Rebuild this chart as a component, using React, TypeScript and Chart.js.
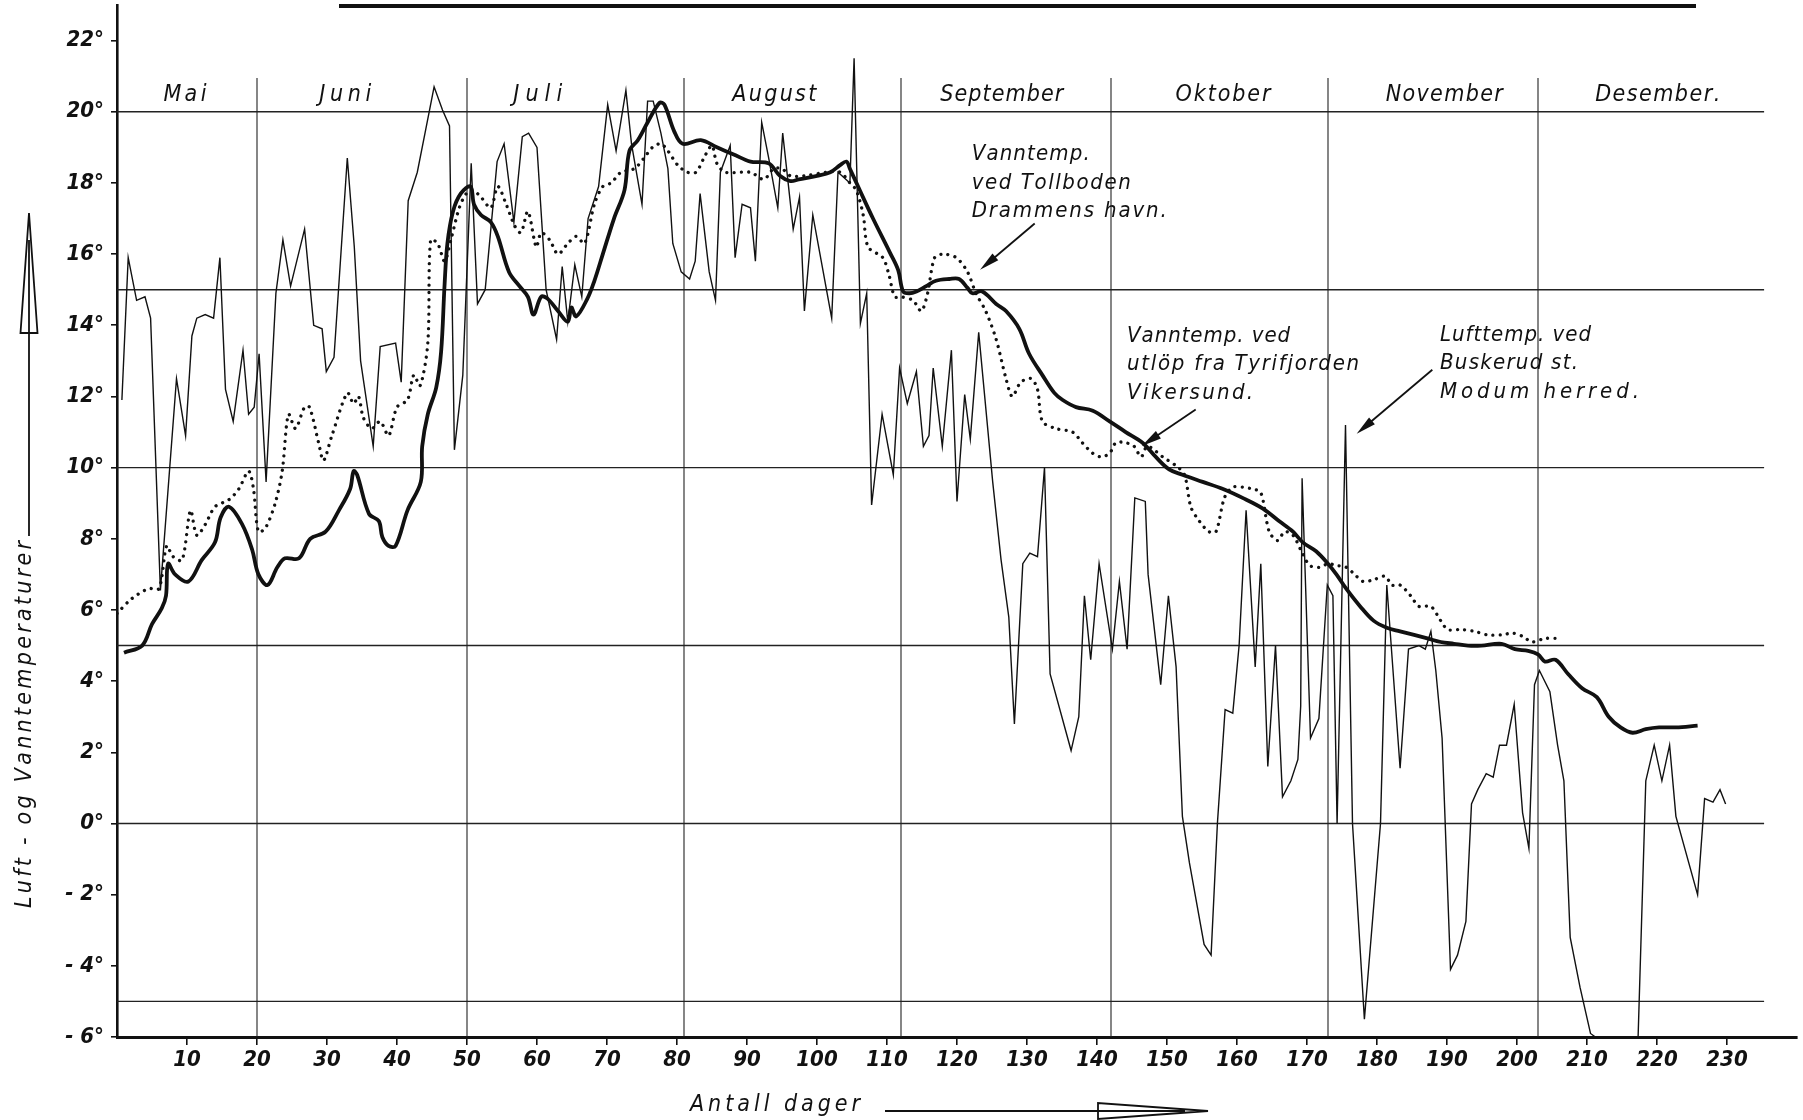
import React, { useEffect, useRef } from 'react';
import { Chart, registerables } from 'chart.js';

Chart.register(...registerables);

// ---- Data: days counted from the first observation day, temperatures in °C ----

// Lufttemp. ved Buskerud st., Modum herred (daily air temperature)
const airDays = [
  0.7, 1.6, 2.8, 4.0, 4.8, 6.2, 8.5, 9.8, 10.7, 11.4, 12.6, 13.8, 14.7, 15.5, 16.6, 18.0, 18.8, 19.6,
  20.3, 21.3, 22.7, 23.7, 24.8, 26.8, 28.1, 29.3, 29.9, 31.0, 32.9, 33.9, 34.8, 36.6, 37.6, 39.8, 40.6,
  41.6, 42.9, 44.1, 45.3, 46.5, 47.5, 48.2, 49.4, 50.6, 51.5, 52.6, 54.3, 55.3, 56.7, 57.9, 58.8, 60.0,
  61.3, 62.8, 63.6, 64.4, 65.4, 66.4, 67.3, 68.8, 70.1, 71.3, 72.7, 73.5, 75.0, 75.8, 76.6, 77.7, 78.7,
  79.4, 80.6, 81.8, 82.6, 83.3, 84.6, 85.5, 86.2, 87.6, 88.3, 89.3, 90.5, 91.2, 92.1, 93.1, 94.4, 95.1,
  96.6, 97.5, 98.2, 99.4, 102.1, 103.0, 104.7, 105.3, 106.2, 107.1, 107.8, 109.3, 110.9, 111.8, 112.9,
  114.2, 115.2, 116.0, 116.6, 117.9, 119.2, 120.0, 121.1, 121.9, 123.1, 125.1, 126.3, 127.4, 128.2,
  129.4, 130.4, 131.5, 132.5, 133.3, 136.3, 137.4, 138.2, 139.1, 140.3, 142.2, 143.2, 144.3, 145.4,
  146.9, 147.3, 149.1, 150.2, 151.3, 152.2, 153.2, 155.3, 156.3, 157.2, 158.3, 159.4, 160.3, 161.3,
  162.6, 163.4, 164.4, 165.5, 166.5, 167.7, 168.7, 169.1, 169.3, 170.5, 171.7, 172.9, 173.7, 174.3,
  175.5, 176.5, 178.2, 180.5, 181.4, 183.3, 184.5, 186.0, 186.9, 187.7, 188.4, 189.3, 190.5, 191.5,
  192.7, 193.5, 194.4, 195.6, 196.6, 197.5, 198.5, 199.6, 200.8, 201.7, 202.5, 203.2, 204.7, 205.8,
  206.7, 207.6, 209.0, 210.5, 211.2, 214.0, 217.3, 218.4, 219.6, 220.7, 221.8, 222.7, 225.8, 226.8,
  228.0, 229.0, 229.8,
];
const airTemps = [
  11.9, 15.9, 14.7, 14.8, 14.2, 6.55, 12.5, 10.9, 13.7, 14.2, 14.3, 14.2, 15.9, 12.2, 11.3, 13.3, 11.5, 11.7,
  13.2, 9.6, 14.9, 16.4, 15.1, 16.7, 14.0, 13.9, 12.7, 13.1, 18.7, 16.2, 13.0, 10.6, 13.4, 13.5, 12.4,
  17.5, 18.3, 19.5, 20.7, 20.05, 19.6, 10.5, 12.6, 18.55, 14.6, 15.0, 18.6, 19.1, 16.9, 19.3, 19.4, 19.0,
  15.0, 13.6, 15.65, 14.1, 15.7, 14.8, 17.0, 17.9, 20.2, 18.9, 20.6, 19.1, 17.4, 20.3, 20.3, 19.4, 18.4,
  16.3, 15.5, 15.3, 15.8, 17.7, 15.5, 14.7, 18.3, 19.05, 15.9, 17.4, 17.3, 15.8, 19.7, 18.7, 17.3, 19.4,
  16.7, 17.6, 14.4, 17.1, 14.2, 18.3, 18.0, 21.5, 14.05, 14.9, 8.95, 11.5, 9.8, 12.8, 11.8,
  12.7, 10.6, 10.9, 12.8, 10.6, 13.3, 9.05, 12.05, 10.8, 13.8, 9.6, 7.4, 5.8, 2.8,
  7.3, 7.6, 7.5, 10.0, 4.2, 2.05, 3.0, 6.4, 4.6, 7.3, 4.9, 6.8, 4.9, 9.15,
  9.05, 7.0, 3.9, 6.4, 4.4, 0.2, -1.1, -3.4, -3.7, 0.0, 3.2, 3.1, 5.0, 8.8,
  4.4, 7.3, 1.6, 5.0, 0.75, 1.2, 1.8, 3.3, 9.7, 2.4, 2.95, 6.7, 6.4, 0.0,
  11.2, 0.0, -5.5, 0.0, 6.7, 1.55, 4.9, 5.0, 4.9, 5.4, 4.3, 2.4, -4.1, -3.7,
  -2.75, 0.55, 0.95, 1.4, 1.3, 2.2, 2.2, 3.35, 0.3, -0.7, 3.9, 4.3, 3.7, 2.2,
  1.2, -3.2, -4.6, -5.9, -6.0, null, -6.0, 1.2, 2.2, 1.2, 2.2, 0.2, -2.0, 0.7,
  0.6, 0.95, 0.55,
];

// Vanntemp. ved utløp fra Tyrifjorden, Vikersund
const tyriDays = [
  1, 3.6, 5, 6.4, 7, 7.3, 8.3, 10.2, 12.1, 14, 14.8, 16, 17.9, 19.3, 20.2, 21.5, 22.9, 24, 26, 27.6,
  29.8, 31.7, 33.3, 33.8, 34.3, 36, 37.4, 37.9, 38.8, 39.8, 41.5, 43.4, 43.6, 44.4, 45.6, 46.3, 46.8,
  47.2, 48, 49.1, 50.5, 51, 52, 53.4, 54.4, 56, 57.5, 58.7, 59.5, 60.6, 61.5, 63, 64.4, 64.9, 65.6,
  67.2, 68.2, 69.4, 71, 72.5, 73.2, 74.4, 75.8, 77.5, 78.2, 79.6, 80.8, 83.4, 85.7, 88.1, 90.5, 93.1,
  94.7, 96.2, 97.4, 100, 101.9, 103.3, 104.2, 104.7, 106.1, 108, 110.4, 111.6, 112.3, 113.2, 114.2,
  115.6, 117, 118.9, 120.3, 121.5, 122.2, 123.6, 125.6, 127, 128.9, 130.3, 132.2, 133.9, 135.1, 137,
  139.4, 141.8, 144.1, 146.5, 148.4, 150.3, 152.2, 155.1, 158, 160.8, 163.7, 166, 168, 169.4, 171.3,
  173, 174.2, 175.6, 177.6, 179.5, 181.4, 183.3, 185.3, 187.2, 189.1, 191, 193, 194.9, 197.8, 199.7,
  201.6, 203, 204, 205.5, 207.3, 209.3, 211.4, 213.1, 214.8, 216.5, 218.4, 220.3, 222.7, 225.8,
];
const tyriTemps = [
  4.8, 5.0, 5.6, 6.05, 6.4, 7.3, 7.0, 6.8, 7.4, 7.9, 8.6, 8.9, 8.4, 7.7, 7.0, 6.7, 7.2, 7.45, 7.45, 8.0,
  8.2, 8.8, 9.4, 9.9, 9.8, 8.7, 8.5, 8.05, 7.8, 7.8, 8.8, 9.6, 10.6, 11.5, 12.25, 13.25, 15.15,
  16.3, 17.2, 17.7, 17.9, 17.4, 17.1, 16.9, 16.5, 15.5, 15.1, 14.8, 14.3, 14.8, 14.75, 14.4, 14.1, 14.5, 14.25,
  14.75, 15.25, 16.0, 17.0, 17.8, 18.9, 19.2, 19.7, 20.25, 20.2, 19.45, 19.1, 19.2, 19.0, 18.8, 18.6, 18.55,
  18.2, 18.05, 18.1, 18.2, 18.3, 18.5, 18.6, 18.4, 17.8, 17.0, 16.05, 15.55, 14.95, 14.9, 14.95,
  15.1, 15.25, 15.3, 15.3, 15.05, 14.9, 14.95, 14.6, 14.4, 13.9, 13.2, 12.6, 12.1, 11.9, 11.7,
  11.6, 11.3, 11.0, 10.7, 10.3, 9.95, 9.8, 9.6, 9.4, 9.15, 8.85, 8.5, 8.2, 7.9, 7.65,
  7.3, 7.0, 6.6, 6.1, 5.7, 5.5, 5.4, 5.3, 5.2, 5.1, 5.05, 5.0, 5.0, 5.05, 4.9,
  4.85, 4.75, 4.55, 4.6, 4.2, 3.8, 3.55, 3.0, 2.7, 2.55, 2.65, 2.7, 2.7, 2.75,
];

// Vanntemp. ved Tollboden, Drammens havn
const drammenDays = [
  0, 2, 4.5, 6, 7.1, 8, 9.3, 10.5, 11.4, 12.6, 14, 16, 17.4, 18.8, 19.5, 20.2, 21.2, 22.6, 23.6, 24.5,
  25.5, 26.8, 27.5, 28.8, 29.5, 30.7, 32.9, 33.8, 34.5, 35.2, 36.4, 37.6, 38.8, 40, 41.5, 42.4, 43.3,
  44.4, 44.8, 45.8, 46.8, 47.7, 48.9, 49.9, 50.8, 52, 53.4, 54.4, 55.6, 56.8, 57.7, 58.7, 59.9, 60.6,
  61.8, 63, 64.4, 65.6, 66.8, 68.2, 69.4, 70.6, 72, 73.9, 75.3, 76.5, 77.7, 78.7, 80.1, 81.5, 82.7,
  84.1, 85, 85.7, 86.9, 90.5, 92.4, 93.8, 95, 96.2, 98.1, 101.4, 103.3, 104.7, 105.6, 106.6, 107.3,
  109.4, 110.3, 111.1, 112, 113.7, 114.9, 115.8, 116.8, 118, 119.9, 121.5, 122.7, 124.1, 125.6, 127,
  127.9, 129.1, 130.6, 131.5, 132.2, 134.1, 136.5, 137.9, 139.4, 140.6, 141.8, 142.7, 144.1, 145.3,
  146.3, 147.2, 149.4, 151.3, 152.5, 153.4, 154.6, 156, 157, 158.2, 159.4, 160.8, 162.2, 163.4, 164.6,
  165.8, 166.8, 168, 169.2, 170.4, 171.8, 173, 174.2, 175.6, 176.8, 178, 179.5, 181.2, 182.1, 183.3,
  184.8, 186, 187.7, 189.1, 190.1, 192, 193.9, 195.8, 197.8, 199.4, 200.9, 202.1, 204, 206.2,
];
const drammenTemps = [
  5.9, 6.3, 6.6, 6.6, 7.8, 7.5, 7.4, 8.8, 8.1, 8.4, 8.9, 9.1, 9.4, 9.9, 9.4, 8.2, 8.3, 9.0, 9.9, 11.5,
  11.1, 11.7, 11.7, 10.7, 10.2, 10.9, 12.1, 11.8, 12.0, 11.4, 11.1, 11.3, 10.9, 11.7, 11.9, 12.6, 12.3,
  13.5, 16.4, 16.3, 15.8, 16.4, 17.3, 17.7, 17.8, 17.6, 17.3, 17.9, 17.4, 16.8, 16.6, 17.2, 16.2, 16.6,
  16.4, 16.0, 16.3, 16.5, 16.3, 17.4, 17.9, 18.0, 18.3, 18.4, 18.7, 19.0, 19.1, 18.9, 18.5, 18.3, 18.3,
  18.8, 19.05, 18.55, 18.3, 18.3, 18.1, 18.4, 18.4, 18.2, 18.2, 18.3, 18.3, 18.0, 17.8, 17.1, 16.2,
  15.9, 15.4, 14.8, 14.8, 14.7, 14.4, 14.9, 15.9, 16.0, 15.9, 15.5, 14.9, 14.4, 13.6, 12.5,
  12.0, 12.4, 12.5, 12.2, 11.3, 11.1, 11.0, 10.7, 10.4, 10.3, 10.4, 10.7, 10.7, 10.6,
  10.3, 10.6, 10.3, 10.05, 9.8, 8.9, 8.5, 8.2, 8.2, 9.15, 9.45, 9.45, 9.4, 9.3, 8.2,
  7.95, 8.2, 8.1, 7.65, 7.25, 7.2, 7.3, 7.25, 7.2, 7.0, 6.8, 6.85, 6.95, 6.7, 6.7,
  6.4, 6.1, 6.1, 5.7, 5.45, 5.45, 5.4, 5.3, 5.3, 5.35, 5.25, 5.1, 5.2, 5.2,
];

// Axis ticks and reference lines
const xTickValues = [10, 20, 30, 40, 50, 60, 70, 80, 90, 100, 110, 120, 130, 140, 150, 160, 170, 180, 190, 200, 210, 220, 230];
const yTickValues = [-6, -4, -2, 0, 2, 4, 6, 8, 10, 12, 14, 16, 18, 20, 22];
const gridTemps = [20, 15, 10, 5, 0, -5];

// Months: name and the day on which each new month begins
const monthNames = ['Mai', 'Juni', 'Juli', 'August', 'September', 'Oktober', 'November', 'Desember.'];
const monthStartDays = [20, 50, 81, 112, 142, 173, 203];

// ---- Layout & style ----
const W = 1803;
const H = 1120;
const FONT = "'DejaVu Sans Condensed', 'DejaVu Sans', sans-serif";
const INK = '#111';
const GRID_END_DAY = 235.3;
const MONTH_LINE_TOP = 20.95;
const MONTH_LABEL_TEMP = 20.47;
const monthLabelCenters = [9.7, 32.6, 60.1, 93.9, 126.4, 158, 189.6, 220.1];
const monthLabelWidths = [43, 52, 49, 84, 123, 95, 117, 125];

type Note = { day: number; temp: number; lines: string[]; widths: number[]; from: [number, number]; to: [number, number] };
const notes: Note[] = [
  {
    day: 122.1, temp: 18.8,
    lines: ['Vanntemp.', 'ved Tollboden', 'Drammens havn.'], widths: [118, 159, 195],
    from: [131.1, 16.86], to: [123.3, 15.56],
  },
  {
    day: 144.3, temp: 13.7,
    lines: ['Vanntemp. ved', 'utlöp fra Tyrifjorden', 'Vikersund.'], widths: [163, 232, 126],
    from: [154.1, 11.63], to: [146.4, 10.61],
  },
  {
    day: 189.0, temp: 13.72,
    lines: ['Lufttemp. ved', 'Buskerud st.', 'Modum herred.'], widths: [151, 138, 199],
    from: [187.9, 12.75], to: [177.1, 10.95],
  },
];

function spacedText(ctx: CanvasRenderingContext2D, text: string, x: number, y: number, width: number, align: 'left' | 'center') {
  const chars = [...text];
  const ws = chars.map((c) => ctx.measureText(c).width);
  const natural = ws.reduce((a, b) => a + b, 0);
  ctx.save();
  ctx.textAlign = 'left';
  const start = align === 'center' ? x - width / 2 : x;
  if (natural >= width || chars.length < 2) {
    ctx.translate(start, y);
    ctx.scale(Math.min(1, width / natural), 1);
    ctx.fillText(text, 0, 0);
  } else {
    const gap = (width - natural) / (chars.length - 1);
    let cx = start;
    chars.forEach((c, i) => {
      ctx.fillText(c, cx, y);
      cx += ws[i] + gap;
    });
  }
  ctx.restore();
}

function solidArrow(ctx: CanvasRenderingContext2D, x1: number, y1: number, x2: number, y2: number) {
  const a = Math.atan2(y2 - y1, x2 - x1);
  const len = 20;
  const half = 4.5;
  ctx.beginPath();
  ctx.moveTo(x1, y1);
  ctx.lineTo(x2 - Math.cos(a) * len * 0.6, y2 - Math.sin(a) * len * 0.6);
  ctx.stroke();
  ctx.beginPath();
  ctx.moveTo(x2, y2);
  ctx.lineTo(x2 - Math.cos(a) * len + Math.sin(a) * half, y2 - Math.sin(a) * len - Math.cos(a) * half);
  ctx.lineTo(x2 - Math.cos(a) * len - Math.sin(a) * half, y2 - Math.sin(a) * len + Math.cos(a) * half);
  ctx.closePath();
  ctx.fill();
}

const decorations = {
  id: 'decorations',
  beforeDatasetsDraw(chart: any) {
    const { ctx, scales } = chart;
    const x = scales.x;
    const y = scales.y;
    ctx.save();
    ctx.strokeStyle = '#222';
    ctx.lineWidth = 1.4;
    for (const t of gridTemps) {
      const py = y.getPixelForValue(t);
      ctx.beginPath();
      ctx.moveTo(x.getPixelForValue(0), py);
      ctx.lineTo(x.getPixelForValue(GRID_END_DAY), py);
      ctx.stroke();
    }
    ctx.lineWidth = 1.1;
    for (const d of monthStartDays) {
      const px = x.getPixelForValue(d);
      ctx.beginPath();
      ctx.moveTo(px, y.getPixelForValue(MONTH_LINE_TOP));
      ctx.lineTo(px, y.getPixelForValue(-6));
      ctx.stroke();
    }
    ctx.restore();
  },
  afterDraw(chart: any) {
    const { ctx, scales } = chart;
    const x = scales.x;
    const y = scales.y;
    ctx.save();
    ctx.fillStyle = INK;
    ctx.strokeStyle = INK;
    ctx.textBaseline = 'middle';

    // heading rule along the top edge
    ctx.fillRect(339, 4, 1357, 4);

    // month names
    ctx.font = `italic 23px ${FONT}`;
    monthNames.forEach((m, i) => {
      spacedText(ctx, m, x.getPixelForValue(monthLabelCenters[i]), y.getPixelForValue(MONTH_LABEL_TEMP), monthLabelWidths[i], 'center');
    });

    // curve notes with pointer arrows
    ctx.font = `italic 22px ${FONT}`;
    ctx.lineWidth = 1.8;
    for (const n of notes) {
      const left = x.getPixelForValue(n.day);
      const top = y.getPixelForValue(n.temp);
      n.lines.forEach((line, i) => spacedText(ctx, line, left, top + i * 28.5, n.widths[i], 'left'));
      solidArrow(ctx, x.getPixelForValue(n.from[0]), y.getPixelForValue(n.from[1]), x.getPixelForValue(n.to[0]), y.getPixelForValue(n.to[1]));
    }

    // y-axis title with upward arrow
    ctx.save();
    ctx.translate(25, 908);
    ctx.rotate(-Math.PI / 2);
    ctx.font = `italic 23px ${FONT}`;
    spacedText(ctx, 'Luft - og Vanntemperaturer', 0, 0, 367, 'left');
    ctx.restore();
    ctx.lineWidth = 1.8;
    ctx.beginPath();
    ctx.moveTo(29, 536);
    ctx.lineTo(29, 240);
    ctx.stroke();
    ctx.beginPath();
    ctx.moveTo(29, 213);
    ctx.lineTo(37.5, 333);
    ctx.lineTo(20.5, 333);
    ctx.closePath();
    ctx.stroke();

    // x-axis title with arrow to the right
    ctx.font = `italic 23px ${FONT}`;
    spacedText(ctx, 'Antall dager', 690, 1105, 170, 'left');
    ctx.beginPath();
    ctx.moveTo(885, 1111);
    ctx.lineTo(1185, 1111);
    ctx.stroke();
    ctx.beginPath();
    ctx.moveTo(1208, 1111);
    ctx.lineTo(1098, 1103);
    ctx.lineTo(1098, 1119);
    ctx.closePath();
    ctx.stroke();

    ctx.restore();
  },
};

function toPoints(days: number[], temps: (number | null)[]) {
  return days.map((d, i) => ({ x: d, y: temps[i] }));
}

export default function App() {
  const canvasRef = useRef<HTMLCanvasElement | null>(null);

  useEffect(() => {
    const canvas = canvasRef.current;
    if (!canvas) return;
    const tickFont = { family: FONT, size: 22, style: 'italic' as const, weight: 'bold' as const };
    const chart = new Chart(canvas, {
      type: 'line',
      data: {
        datasets: [
          {
            label: 'Lufttemp. ved Buskerud st. Modum herred',
            data: toPoints(airDays, airTemps) as any,
            borderColor: INK,
            borderWidth: 1.4,
            pointRadius: 0,
            tension: 0,
            spanGaps: false,
          },
          {
            label: 'Vanntemp. ved utlöp fra Tyrifjorden Vikersund',
            data: toPoints(tyriDays, tyriTemps) as any,
            borderColor: INK,
            borderWidth: 3.8,
            pointRadius: 0,
            tension: 0.35,
            borderJoinStyle: 'round',
          },
          {
            label: 'Vanntemp. ved Tollboden Drammens havn',
            data: toPoints(drammenDays, drammenTemps) as any,
            borderColor: INK,
            borderWidth: 3.3,
            borderDash: [0.01, 7.2],
            borderCapStyle: 'round',
            pointRadius: 0,
            tension: 0.3,
          },
        ],
      },
      options: {
        animation: false,
        responsive: false,
        devicePixelRatio: 1,
        layout: { padding: { left: 0, right: 6, top: 5, bottom: 0 } },
        plugins: { legend: { display: false }, tooltip: { enabled: false } },
        scales: {
          x: {
            type: 'linear',
            min: 0,
            max: 240,
            afterBuildTicks: (s: any) => {
              s.ticks = xTickValues.map((v) => ({ value: v }));
            },
            afterFit: (s: any) => {
              s.height = 83;
              s.paddingLeft = 0;
              s.paddingRight = 0;
            },
            grid: { drawOnChartArea: false, tickLength: 8, color: INK, lineWidth: 1.6 },
            border: { color: INK, width: 3 },
            ticks: { color: INK, font: tickFont, padding: 2, maxRotation: 0, autoSkip: false, callback: (v: any) => String(v) },
          },
          y: {
            type: 'linear',
            min: -6,
            max: 23,
            afterBuildTicks: (s: any) => {
              s.ticks = yTickValues.map((v) => ({ value: v }));
            },
            afterFit: (s: any) => {
              s.width = 117;
              s.paddingTop = 0;
              s.paddingBottom = 0;
            },
            grid: { drawOnChartArea: false, tickLength: 6, color: INK, lineWidth: 1.6 },
            border: { color: INK, width: 2.6 },
            ticks: {
              color: INK,
              font: tickFont,
              padding: 7,
              autoSkip: false,
              callback: (v: any) => (v < 0 ? `- ${-v}°` : `${v}°`),
            },
          },
        },
      },
      plugins: [decorations],
    });
    return () => chart.destroy();
  }, []);

  return (
    <div style={{ position: 'fixed', left: 0, top: 0, width: W, height: H, background: '#fff' }}>
      <canvas ref={canvasRef} width={W} height={H} style={{ display: 'block', width: W, height: H }} />
    </div>
  );
}
